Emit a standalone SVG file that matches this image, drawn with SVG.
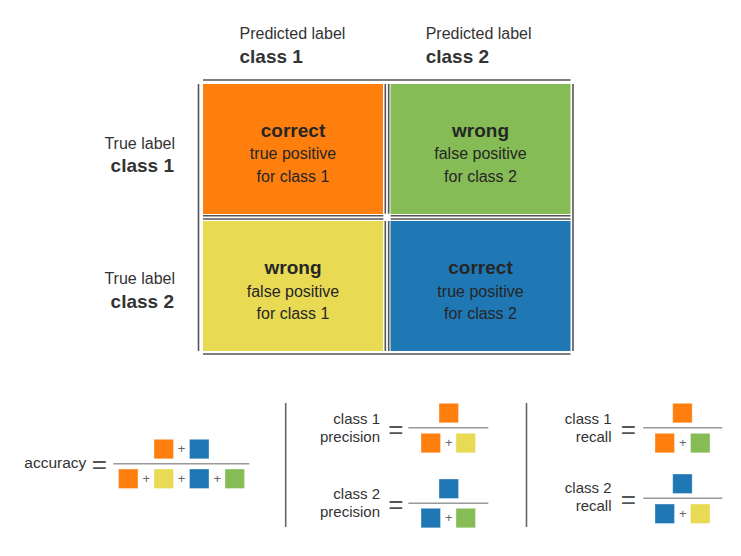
<svg xmlns="http://www.w3.org/2000/svg" width="741" height="556" viewBox="0 0 741 556">
<style>
text{font-family:"Liberation Sans",Arial,Helvetica,sans-serif;fill:#333}
.reg{font-size:16px}
.bold{font-size:19px;font-weight:bold}
.cell{fill:#262626}
.lab{font-size:15px;text-anchor:end}
.mid{text-anchor:middle}
.eq{font-size:26px;fill:#555;text-anchor:middle}
.plus{font-size:13px;fill:#666;text-anchor:middle}
.gl{stroke:#555;stroke-width:1.6;fill:none}
.fl{stroke:#999;stroke-width:1.5;fill:none}
.sep{stroke:#666;stroke-width:1.6;fill:none}
.sq{stroke:#fff;stroke-opacity:0.35;stroke-width:1}
.o{fill:#FE7F0E}.g{fill:#85BC55}.y{fill:#E9DA54}.b{fill:#1F77B4}
</style>

<g id="column-labels">
<text class="reg" x="239.5" y="39">Predicted label</text>
<text class="bold" x="239.5" y="62.5">class 1</text>
<text class="reg" x="425.7" y="39">Predicted label</text>
<text class="bold" x="425.7" y="62.5">class 2</text>
</g>
<g id="row-labels">
<text class="reg" x="175" y="149" text-anchor="end">True label</text>
<text class="bold" x="174" y="171.5" text-anchor="end">class 1</text>
<text class="reg" x="175" y="284.3" text-anchor="end">True label</text>
<text class="bold" x="174" y="307.7" text-anchor="end">class 2</text>
</g>

<g id="grid-lines">
<line class="gl" x1="203" y1="80" x2="570.5" y2="80"/>
<line class="gl" x1="203" y1="354" x2="570.5" y2="354"/>
<line class="gl" x1="198.5" y1="84" x2="198.5" y2="351"/>
<line class="gl" x1="573" y1="84" x2="573" y2="351"/>
<line class="gl" x1="385.3" y1="84" x2="385.3" y2="213.7"/>
<line class="gl" x1="388.7" y1="84" x2="388.7" y2="213.7"/>
<line class="gl" x1="385.3" y1="221" x2="385.3" y2="351"/>
<line class="gl" x1="388.7" y1="221" x2="388.7" y2="351"/>
<line class="gl" x1="203" y1="215.7" x2="383.3" y2="215.7"/>
<line class="gl" x1="203" y1="219" x2="383.3" y2="219"/>
<line class="gl" x1="390.7" y1="215.7" x2="570.5" y2="215.7"/>
<line class="gl" x1="390.7" y1="219" x2="570.5" y2="219"/>
</g>

<g id="cell-tp1">
<rect class="o" x="203" y="84" width="180" height="130"/>
<text class="bold cell mid" x="293" y="136.7">correct</text>
<text class="reg cell mid" x="293" y="159.3">true positive</text>
<text class="reg cell mid" x="293" y="181.7">for class 1</text>
</g>
<g id="cell-fp2">
<rect class="g" x="390.5" y="84" width="180" height="130"/>
<text class="bold cell mid" x="480.5" y="136.7">wrong</text>
<text class="reg cell mid" x="480.5" y="159.3">false positive</text>
<text class="reg cell mid" x="480.5" y="181.7">for class 2</text>
</g>
<g id="cell-fp1">
<rect class="y" x="203" y="221" width="180" height="130"/>
<text class="bold cell mid" x="293" y="274">wrong</text>
<text class="reg cell mid" x="293" y="296.7">false positive</text>
<text class="reg cell mid" x="293" y="319.3">for class 1</text>
</g>
<g id="cell-tp2">
<rect class="b" x="390.5" y="221" width="180" height="130"/>
<text class="bold cell mid" x="480.5" y="274">correct</text>
<text class="reg cell mid" x="480.5" y="296.7">true positive</text>
<text class="reg cell mid" x="480.5" y="319.3">for class 2</text>
</g>

<g id="separators">
<line class="sep" x1="285.7" y1="403" x2="285.7" y2="527"/>
<line class="sep" x1="526.5" y1="403" x2="526.5" y2="527"/>
</g>

<g id="accuracy">
<text style="font-size:15.5px" x="24.3" y="468.3">accuracy</text>
<text class="eq" x="99.4" y="473.4">=</text>
<line class="fl" x1="113.3" y1="463.7" x2="249.3" y2="463.7"/>
<rect class="sq o" x="154" y="439.3" width="19.5" height="19.5"/>
<text class="plus" x="181.6" y="453.3">+</text>
<rect class="sq b" x="189.5" y="439.3" width="19.5" height="19.5"/>
<rect class="sq o" x="118.5" y="469" width="19.5" height="19.5"/>
<text class="plus" x="146.2" y="483">+</text>
<rect class="sq y" x="154" y="469" width="19.5" height="19.5"/>
<text class="plus" x="181.6" y="483">+</text>
<rect class="sq b" x="189.5" y="469" width="19.5" height="19.5"/>
<text class="plus" x="217.3" y="483">+</text>
<rect class="sq g" x="225" y="469" width="19.5" height="19.5"/>
</g>

<g id="precision-1">
<text class="lab" x="380" y="424.3">class 1</text>
<text class="lab" x="380" y="442.3">precision</text>
<text class="eq" x="395.8" y="437.7">=</text>
<line class="fl" x1="408.3" y1="427.7" x2="488.3" y2="427.7"/>
<rect class="sq o" x="439" y="403.3" width="19.5" height="19.5"/>
<rect class="sq o" x="421" y="433.3" width="19.5" height="19.5"/>
<text class="plus" x="448.8" y="447.3">+</text>
<rect class="sq y" x="456" y="433.3" width="19.5" height="19.5"/>
</g>
<g id="precision-2">
<text class="lab" x="380" y="499.3">class 2</text>
<text class="lab" x="380" y="516.7">precision</text>
<text class="eq" x="395.8" y="512.7">=</text>
<line class="fl" x1="408.3" y1="503.3" x2="488.3" y2="503.3"/>
<rect class="sq b" x="439" y="479" width="19.5" height="19.5"/>
<rect class="sq b" x="421" y="508.3" width="19.5" height="19.5"/>
<text class="plus" x="448.8" y="522.3">+</text>
<rect class="sq g" x="456" y="508.3" width="19.5" height="19.5"/>
</g>

<g id="recall-1">
<text class="lab" x="611.5" y="424">class 1</text>
<text class="lab" x="611.5" y="442.3">recall</text>
<text class="eq" x="628.3" y="437.7">=</text>
<line class="fl" x1="643.3" y1="427.7" x2="722.3" y2="427.7"/>
<rect class="sq o" x="672.7" y="403.3" width="19.5" height="19.5"/>
<rect class="sq o" x="655" y="433.3" width="19.5" height="19.5"/>
<text class="plus" x="682.7" y="447.3">+</text>
<rect class="sq g" x="690.5" y="433.3" width="19.5" height="19.5"/>
</g>
<g id="recall-2">
<text class="lab" x="611.5" y="493.3">class 2</text>
<text class="lab" x="611.5" y="510.7">recall</text>
<text class="eq" x="628.3" y="507.7">=</text>
<line class="fl" x1="643.3" y1="498.3" x2="722.3" y2="498.3"/>
<rect class="sq b" x="672.7" y="474" width="19.5" height="19.5"/>
<rect class="sq b" x="655" y="504" width="19.5" height="19.5"/>
<text class="plus" x="682.7" y="518">+</text>
<rect class="sq y" x="690.5" y="504" width="19.5" height="19.5"/>
</g>
</svg>
